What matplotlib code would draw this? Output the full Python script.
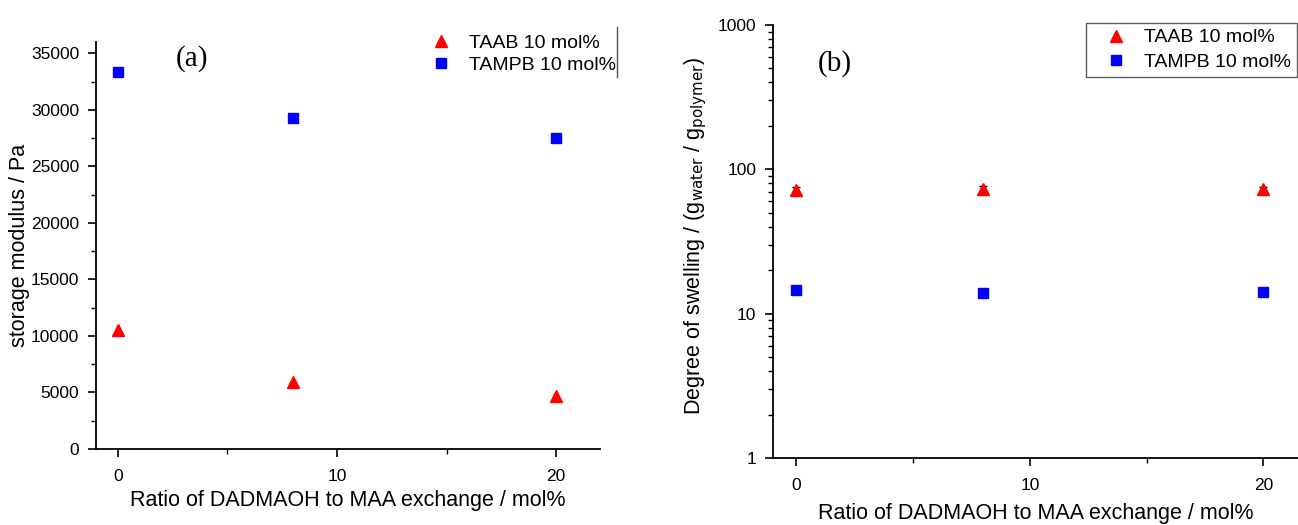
import matplotlib
matplotlib.use("Agg")
import matplotlib.pyplot as plt
from matplotlib.ticker import MultipleLocator, LogLocator, NullFormatter, FixedLocator
from matplotlib.lines import Line2D

plt.rcParams['font.family'] = ['Liberation Sans', 'DejaVu Sans']

# ---- data ----
ratio = [0, 8, 20]
series_names = ["TAAB 10 mol%", "TAMPB 10 mol%"]
modulus_taab = [10500, 5950, 4700]
modulus_tampb = [33350, 29300, 27500]
swelling_taab = [72, 73, 72.5]
swelling_taab_err = [3, 4, 3]
swelling_tampb = [14.5, 14.0, 14.1]
xticks = [0, 10, 20]
yticks_a = [0, 5000, 10000, 15000, 20000, 25000, 30000, 35000]
yticks_b = [1, 10, 100, 1000]
xlabel = "Ratio of DADMAOH to MAA exchange / mol%"
ylabel_a = "storage modulus / Pa"
ylabel_b = r"Degree of swelling / (g$_{\mathrm{water}}$ / g$_{\mathrm{polymer}}$)"

W, H = 1298, 525
fig = plt.figure(figsize=(W / 100, H / 100), dpi=100)


def fx(px):
    return px / W


def fy(py):
    return 1 - py / H


red = "#ff0000"
blue = "#0000ff"
fs_tick = 12.5
fs_label = 15.5
fs_leg = 14
ms_tri = 9
ms_sq = 7.2


def style(ax):
    for s in ["top", "right"]:
        ax.spines[s].set_visible(False)
    for s in ["left", "bottom"]:
        ax.spines[s].set_linewidth(1.3)
    ax.tick_params(which="major", direction="out", length=6, width=1.2, labelsize=fs_tick, colors="black")
    ax.tick_params(which="minor", direction="out", length=3.5, width=1.0)
    ax.tick_params(axis="y", which="major", pad=6)
    ax.tick_params(axis="x", which="major", pad=8.5)
    ax.set_xlim(-1, 22)
    ax.xaxis.set_major_locator(FixedLocator(xticks))
    ax.xaxis.set_minor_locator(MultipleLocator(5))


# ---------- panel (a) ----------
a_l, a_r, a_t, a_b = 96, 600, 42, 449
axa = fig.add_axes([fx(a_l), fy(a_b), fx(a_r - a_l), (a_b - a_t) / H])
style(axa)
axa.plot(ratio, modulus_taab, linestyle="none", marker="^", markersize=ms_tri, color=red, label=series_names[0])
axa.plot(ratio, modulus_tampb, linestyle="none", marker="s", markersize=ms_sq, color=blue, label=series_names[1])
axa.set_ylim(0, 36000)
axa.yaxis.set_major_locator(FixedLocator(yticks_a))
axa.yaxis.set_minor_locator(MultipleLocator(2500))
axa.set_xlabel(xlabel, fontsize=fs_label)
axa.set_ylabel(ylabel_a, fontsize=fs_label)
axa.xaxis.set_label_coords(0.5, (fy(490) - fy(a_b)) / ((a_b - a_t) / H))
axa.yaxis.set_label_coords((30 - a_l) / (a_r - a_l), 0.5)
axa.text(fx(192), fy(59), "(a)", transform=fig.transFigure, fontsize=21,
         family=["Liberation Serif", "DejaVu Serif"], ha="center", va="center")
axa.legend(loc="upper left", bbox_to_anchor=(fx(418), fy(34)), bbox_transform=fig.transFigure,
           frameon=False, fontsize=fs_leg, handlelength=2.4, handletextpad=0.2,
           labelspacing=0.22, borderpad=0.0, borderaxespad=0.0)
fig.add_artist(Line2D([fx(617), fx(617)], [fy(27), fy(77)], color="#555555", linewidth=1.0,
                      transform=fig.transFigure))

# ---------- panel (b) ----------
b_l, b_r, b_t, b_b = 773, 1310, 25, 458
hb = (b_b - b_t) / H
axb = fig.add_axes([fx(b_l), fy(b_b), fx(b_r - b_l), hb])
style(axb)
axb.set_yscale("log")
axb.errorbar(ratio, swelling_taab, yerr=swelling_taab_err, linestyle="none", marker="^", markersize=ms_tri,
             color=red, ecolor="black", elinewidth=1.0, capsize=3, label=series_names[0], zorder=3)
axb.plot(ratio, swelling_tampb, linestyle="none", marker="s", markersize=ms_sq, color=blue, label=series_names[1])
axb.set_ylim(1, 1000)
axb.yaxis.set_major_locator(FixedLocator(yticks_b))
axb.yaxis.set_major_formatter(plt.FuncFormatter(lambda v, p: f"{int(round(v))}"))
axb.yaxis.set_minor_locator(LogLocator(base=10, subs=range(2, 10)))
axb.yaxis.set_minor_formatter(NullFormatter())
axb.set_xlabel(xlabel, fontsize=fs_label)
axb.set_ylabel(ylabel_b, fontsize=fs_label)
axb.xaxis.set_label_coords((1036 - b_l) / (b_r - b_l), (fy(503) - fy(b_b)) / hb)
axb.yaxis.set_label_coords((709 - b_l) / (b_r - b_l), 0.513)
axb.text(fx(835), fy(64), "(b)", transform=fig.transFigure, fontsize=21,
         family=["Liberation Serif", "DejaVu Serif"], ha="center", va="center")
handles = [Line2D([], [], linestyle="none", marker="^", markersize=ms_tri, color=red),
           Line2D([], [], linestyle="none", marker="s", markersize=ms_sq, color=blue)]
leg_b = axb.legend(handles, series_names, loc="upper right", bbox_to_anchor=(fx(1297), fy(23)),
                   bbox_transform=fig.transFigure, frameon=True, fancybox=False, fontsize=fs_leg,
                   handlelength=2.5, handletextpad=0.2, labelspacing=0.35, borderpad=0.3,
                   borderaxespad=0.0, edgecolor="#333333")
leg_b.get_frame().set_linewidth(1.0)

fig.savefig("out.png", dpi=100)
